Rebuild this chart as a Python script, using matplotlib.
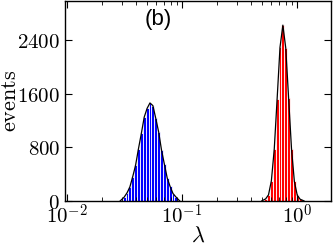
import numpy as np
import matplotlib
matplotlib.use("Agg")
import matplotlib.pyplot as plt
from matplotlib.ticker import FuncFormatter, FixedLocator

plt.rcParams['mathtext.fontset'] = 'cm'

# bin centres (lambda) and counts
blue_lam = [0.0314, 0.0333, 0.0352, 0.0373, 0.0395, 0.0419, 0.0444, 0.0470, 0.0498, 0.0527,
            0.0559, 0.0592, 0.0627, 0.0664, 0.0703, 0.0745, 0.0789, 0.0836, 0.0885]
blue_cnt = [55, 120, 205, 360, 530, 780, 1010, 1250, 1380, 1460,
            1420, 1230, 1030, 760, 550, 340, 215, 110, 60]

red_lam = [0.5346, 0.5662, 0.5998, 0.6353, 0.6730, 0.7129, 0.7551, 0.7998, 0.8472,
           0.8974, 0.9506, 1.0069, 1.0666]
red_cnt = [30, 90, 300, 770, 1520, 2290, 2620, 2280, 1530, 780, 290, 85, 25]

yticks = [0, 800, 1600, 2400]


def edges(centres):
    c = np.log10(centres)
    mid = (c[1:] + c[:-1]) / 2
    e = np.concatenate([[c[0] - (mid[0] - c[0])], mid, [c[-1] + (c[-1] - mid[-1])]])
    return 10 ** e


def draw(ax, lam, cnt, color):
    e = edges(lam)
    ax.bar(e[:-1], cnt, width=np.diff(e), align='edge', color=color,
           edgecolor='white', linewidth=0.6)
    x = np.concatenate([[e[0] / 1.05], lam, [e[-1] * 1.05]])
    y = np.concatenate([[0], cnt, [0]])
    ax.plot(x, y, color='black', lw=0.9)


fig = plt.figure(figsize=(3.33, 2.45), dpi=100)
ax = fig.add_axes([0.195, 0.18, 0.799, 0.816])

draw(ax, blue_lam, blue_cnt, '#0000ff')
draw(ax, red_lam, red_cnt, '#ff0000')

ax.set_xscale('log')
ax.set_xlim(0.0096, 1.98)
ax.set_ylim(0, 2980)
ax.yaxis.set_major_locator(FixedLocator(yticks))
ax.yaxis.set_major_formatter(FuncFormatter(lambda v, p: r'$%d$' % v))
ax.xaxis.set_major_formatter(FuncFormatter(lambda v, p: r'$10^{%d}$' % round(np.log10(v))))
ax.tick_params(which='both', direction='in', top=True, right=True, labelsize=15)
ax.tick_params(which='major', length=5, width=0.8)
ax.tick_params(which='minor', length=3, width=0.6)
ax.tick_params(axis='x', pad=2)
for s in ax.spines.values():
    s.set_linewidth(1.0)

ax.set_xlabel(r'$\lambda$', fontsize=16)
ax.xaxis.set_label_coords(0.5, -0.175)
ax.set_ylabel(r'$\mathrm{events}$', fontsize=16)
ax.yaxis.set_label_coords(-0.207, 0.5)
ax.xaxis.label.set_va('center')
ax.yaxis.label.set_va('center')
ax.text(0.35, 0.905, '(b)', transform=ax.transAxes, fontsize=16,
        family='Liberation Sans', ha='center', va='center')

fig.savefig('out.png', dpi=100)
